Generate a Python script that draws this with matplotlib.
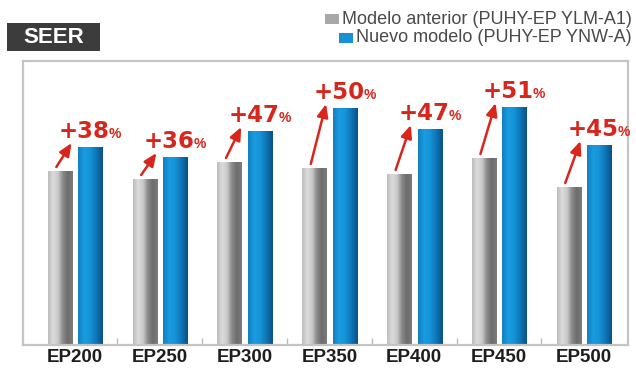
import matplotlib
matplotlib.use('Agg')
import matplotlib.pyplot as plt
import numpy as np
from matplotlib.colors import LinearSegmentedColormap
from matplotlib.patches import Rectangle

# data (bar heights in chart units)
models = ['EP200', 'EP250', 'EP300', 'EP350', 'EP400', 'EP450', 'EP500']
old_model = [174, 166, 183, 177, 171, 187, 158]
new_model = [198, 188, 214, 237, 216, 238, 200]
gains = ['+38', '+36', '+47', '+50', '+47', '+51', '+45']
legend_labels = ['Modelo anterior (PUHY-EP YLM-A1)', 'Nuevo modelo (PUHY-EP YNW-A)']

RED = '#d8261c'
W, H = 636, 369

fig = plt.figure(figsize=(6.36, 3.69), dpi=100)
ax = fig.add_axes([23 / W, 1 - 345 / H, (628 - 23) / W, (345 - 61) / H])

gray_cmap = LinearSegmentedColormap.from_list('g', ['#bcbcbc', '#dcdcdc', '#cacaca', '#8a8a8a', '#6c6c6c', '#7c7c7c'])
blue_cmap = LinearSegmentedColormap.from_list('b', ['#1080c2', '#1b9be0', '#1593d6', '#0e74b4', '#0a5186'])
grad = np.linspace(0, 1, 64).reshape(1, -1)

x = np.arange(len(models))
bw = 0.283
off = 0.18
bars_old = ax.bar(x - off, old_model, bw, facecolor='none', edgecolor='none')
bars_new = ax.bar(x + off, new_model, bw, facecolor='none', edgecolor='none')
for bars, cm in [(bars_old, gray_cmap), (bars_new, blue_cmap)]:
    for b in bars:
        x0, w, h = b.get_x(), b.get_width(), b.get_height()
        im = ax.imshow(grad, cmap=cm, aspect='auto', extent=[x0, x0 + w, 0, h], zorder=2)
        im.set_clip_path(b)

ax.set_xlim(-0.613, 6.52)
ax.set_ylim(0, 284)
px = 284 / (345 - 61)  # data units per pixel (y)

ax.set_xticks(x)
ax.set_xticklabels(models, fontfamily='Liberation Sans', fontweight='bold', fontsize=13.5, color='#1e1e1e')
ax.tick_params(axis='x', length=0, pad=3)
ax.set_xticks(x[:-1] + 0.5, minor=True)
ax.tick_params(axis='x', which='minor', direction='in', length=5, color='#bbbbbb', width=1)
ax.set_yticks([])
for s in ax.spines.values():
    s.set_color('#c4c4c4')
    s.set_linewidth(1.6)

fig.canvas.draw()
renderer = fig.canvas.get_renderer()
for i in range(len(models)):
    gx = x[i] - off
    ly = new_model[i] + 9 * px
    t = ax.text(gx - 0.01, ly, gains[i], color=RED, fontsize=16.5, fontweight='heavy',
                family='DejaVu Sans', ha='left', va='baseline', zorder=5)
    t.set_path_effects([])
    bb = t.get_window_extent(renderer)
    xr = ax.transData.inverted().transform((bb.x1 - 1, bb.y0))[0]
    ax.text(xr, ly, '%', color=RED, fontsize=10, fontweight='bold',
            family='Liberation Sans', ha='left', va='baseline', zorder=5)
    ax.annotate('', xy=(gx + 0.14, ly - 5 * px), xytext=(gx - 0.04, old_model[i] + 4 * px),
                arrowprops=dict(arrowstyle='-|>,head_width=0.3,head_length=0.7', color=RED, lw=1.8,
                                mutation_scale=11, shrinkA=0, shrinkB=0), zorder=5)

# SEER tag
fig.patches.append(Rectangle((7 / W, 1 - 51 / H), 93 / W, 28 / H, transform=fig.transFigure,
                             facecolor='#3c3c3c', edgecolor='none'))
fig.text(53.5 / W, 1 - 37.5 / H, 'SEER', color='white', fontsize=16, fontweight='bold',
         family='Liberation Sans', ha='center', va='center')

# legend
sw_colors = ['#a8a8a8', '#1790d4']
rows_y = [19, 38]
for lab, c, yy in zip(legend_labels, sw_colors, rows_y):
    t = fig.text(632 / W, 1 - yy / H, lab, color='#4a4a4a', fontsize=13,
                 family='Liberation Sans', ha='right', va='center')
    bb = t.get_window_extent(renderer)
    fig.patches.append(Rectangle(((bb.x0 - 17) / W, 1 - (yy + 5) / H), 14 / W, 10 / H,
                                 transform=fig.transFigure, facecolor=c, edgecolor='none'))

fig.savefig('out.png', dpi=100)
